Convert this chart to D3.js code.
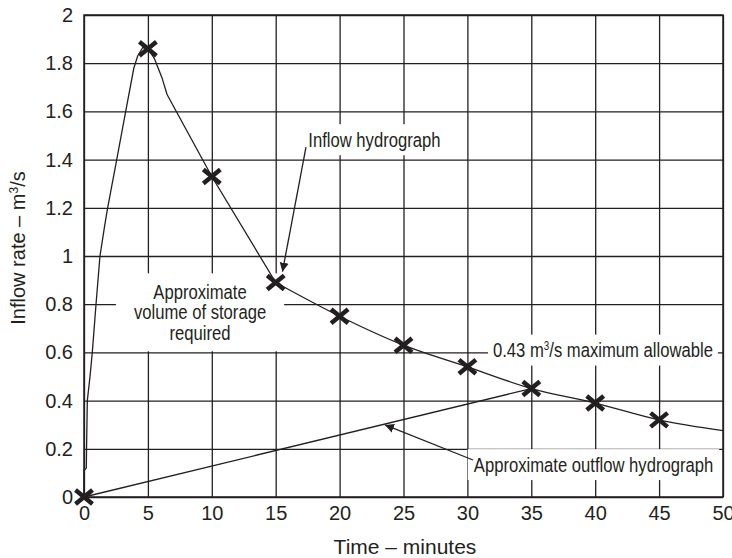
<!DOCTYPE html>
<html>
<head>
<meta charset="utf-8">
<script src="https://cdn.jsdelivr.net/npm/d3@7"></script>
<style>
	body {margin: 0; background: #fff;}
	svg {display: block;}
	.tick-label {font-family: "Liberation Sans", Arial, sans-serif; font-size: 20px; fill: #231f20;}
	.note {font-family: "Liberation Sans", Arial, sans-serif; font-size: 20.3px; fill: #231f20;}
</style>
</head>
<body>
<svg></svg>
<script>
var timeTicks = [0, 5, 10, 15, 20, 25, 30, 35, 40, 45, 50]
var rateTicks = [0, 0.2, 0.4, 0.6, 0.8, 1, 1.2, 1.4, 1.6, 1.8, 2]

// rising limb of the inflow hydrograph (minutes, m3/s)
var riseT = [0, 0, 0.18, 0.2, 0.26, 0.47, 0.65, 0.94, 1.25, 1.6, 1.85, 2.56, 3.3, 3.9, 4.2, 4.6, 5]
var riseQ = [0, 0.11, 0.12, 0.2, 0.4, 0.5, 0.6, 0.8, 1.0, 1.12, 1.2, 1.4, 1.61, 1.78, 1.83, 1.865, 1.86]

// falling limb, nearly straight down to 15 min
var fallT = [5, 5.5, 6.1, 6.5, 10, 15]
var fallQ = [1.86, 1.82, 1.74, 1.67, 1.33, 0.89]

// recession tail
var tailT = [15, 20, 25, 30, 35, 40, 45, 50]
var tailQ = [0.89, 0.75, 0.63, 0.54, 0.45, 0.39, 0.32, 0.275]

// the X marks
var markT = [0, 5, 10, 15, 20, 25, 30, 35, 40, 45]
var markQ = [0, 1.86, 1.33, 0.89, 0.75, 0.63, 0.54, 0.45, 0.39, 0.32]

// outflow hydrograph
var outT = [0, 35]
var outQ = [0, 0.45]

var width = 732
var height = 558
var margin = {top: 15, right: 9, bottom: 61, left: 84}
var ink = '#231f20'
var narrow = 0.82

var svg = d3.select('svg').attr('width', width).attr('height', height)

var x = d3.scaleLinear().domain([0, 50]).range([margin.left, width - margin.right])
var y = d3.scaleLinear().domain([0, 2]).range([height - margin.bottom, margin.top])

svg.append('defs').append('marker')
	.attr('id', 'arrowhead')
	.attr('viewBox', '0 -5 10 10')
	.attr('refX', 9)
	.attr('refY', 0)
	.attr('orient', 'auto')
	.attr('markerUnits', 'userSpaceOnUse')
	.attr('markerWidth', 10)
	.attr('markerHeight', 10)
	.append('path')
	.attr('d', 'M0,-4.5L9,0L0,4.5Z')
	.attr('fill', ink)

// grid + tick labels via the axes
var xAxis = svg.append('g')
	.attr('transform', 'translate(0,' + y(0) + ')')
	.call(d3.axisBottom(x).tickValues(timeTicks).tickSize(-(y(0) - y(2))).tickPadding(9).tickFormat(function(d) {return d}))
var yAxis = svg.append('g')
	.attr('transform', 'translate(' + x(0) + ',0)')
	.call(d3.axisLeft(y).tickValues(rateTicks).tickSize(-(x(50) - x(0))).tickPadding(11).tickFormat(function(d) {return d}))

;[xAxis, yAxis].forEach(function(g) {
	g.attr('font-family', null).attr('font-size', null)
	g.select('.domain').remove()
	g.selectAll('.tick line').attr('stroke', ink).attr('stroke-width', 1.3)
	g.selectAll('.tick text').attr('class', 'tick-label')
})
xAxis.selectAll('.tick text').attr('dy', '0.71em')

svg.append('rect')
	.attr('x', x(0)).attr('y', y(2))
	.attr('width', x(50) - x(0)).attr('height', y(0) - y(2))
	.attr('fill', 'none').attr('stroke', ink).attr('stroke-width', 1.5)

// annotations (anchored in data units), white boxes knock out the grid
var notes = [
	{lines: ['Inflow hydrograph'], t: 17.55, q: 1.453, anchor: 'start', pad: [5, 4]},
	{lines: ['Approximate', 'volume of storage', 'required'], t: 9.08, q: 0.822, anchor: 'middle', pad: [18, 7]},
	{lines: ['0.43 m|3|/s maximum allowable'], t: 32, q: 0.58, anchor: 'start', pad: [5, 4]},
	{lines: ['Approximate outflow hydrograph'], t: 30.5, q: 0.105, anchor: 'start', pad: [6, 4]}
]

var boxGroup = svg.append('g')
var curveGroup = svg.append('g')
var noteGroup = svg.append('g')

notes.forEach(function(n) {
	var g = noteGroup.append('g')
	n.lines.forEach(function(line, i) {
		var txt = g.append('text')
			.attr('class', 'note')
			.attr('transform', 'translate(' + x(n.t) + ',' + (y(n.q) + i * 20.5) + ') scale(' + narrow + ',1)')
			.attr('text-anchor', n.anchor)
		var parts = line.split('|')
		if (parts.length == 1) {
			txt.text(line)
		} else {
			txt.append('tspan').text(parts[0])
			txt.append('tspan').attr('dy', -7).attr('font-size', 12).text(parts[1])
			txt.append('tspan').attr('dy', 7).text(parts[2])
		}
	})
	var b = g.node().getBoundingClientRect()
	boxGroup.append('rect')
		.attr('x', b.left - n.pad[0]).attr('y', b.top - n.pad[1])
		.attr('width', b.width + 2 * n.pad[0]).attr('height', b.height + 2 * n.pad[1])
		.attr('fill', '#fff')
})

var line = d3.line()
	.x(function(d) {return x(d[0])})
	.y(function(d) {return y(d[1])})

function stroke(sel) {
	sel.attr('fill', 'none').attr('stroke', ink).attr('stroke-width', 1.3)
}

curveGroup.append('path')
	.datum(d3.zip(riseT, riseQ).concat(d3.zip(fallT, fallQ)))
	.attr('d', line.curve(d3.curveLinear))
	.call(stroke)

curveGroup.append('path')
	.datum(d3.zip(tailT, tailQ))
	.attr('d', line.curve(d3.curveMonotoneX))
	.call(stroke)

curveGroup.append('path')
	.datum(d3.zip(outT, outQ))
	.attr('d', line.curve(d3.curveLinear))
	.call(stroke)

curveGroup.selectAll('.mark')
	.data(d3.zip(markT, markQ))
	.enter().append('path')
	.attr('class', 'mark')
	.attr('transform', function(d) {return 'translate(' + x(d[0]) + ',' + y(d[1]) + ')'})
	.attr('d', 'M-8.5,-7L8.5,7M-8.5,7L8.5,-7')
	.attr('stroke', ink).attr('stroke-width', 4.5)

// leader arrows
var arrows = [
	{from: [17.37, 1.452], to: [15.53, 0.935]},
	{from: [30.44, 0.1535], to: [23.55, 0.299]}
]
curveGroup.selectAll('.leader')
	.data(arrows)
	.enter().append('line')
	.attr('class', 'leader')
	.attr('x1', function(d) {return x(d.from[0])})
	.attr('y1', function(d) {return y(d.from[1])})
	.attr('x2', function(d) {return x(d.to[0])})
	.attr('y2', function(d) {return y(d.to[1])})
	.attr('stroke', ink).attr('stroke-width', 1.3)
	.attr('marker-end', 'url(#arrowhead)')

// axis titles
svg.append('text')
	.attr('class', 'tick-label')
	.attr('x', 405).attr('y', 554)
	.attr('text-anchor', 'middle')
	.style('font-size', '21px')
	.text('Time – minutes')

var yTitle = svg.append('text')
	.attr('class', 'tick-label')
	.attr('transform', 'translate(25,' + 248 + ') rotate(-90)')
	.attr('text-anchor', 'middle')
yTitle.append('tspan').text('Inflow rate – m')
yTitle.append('tspan').attr('dy', -7).attr('font-size', 12).text('3')
yTitle.append('tspan').attr('dy', 7).text('/s')
</script>
</body>
</html>
